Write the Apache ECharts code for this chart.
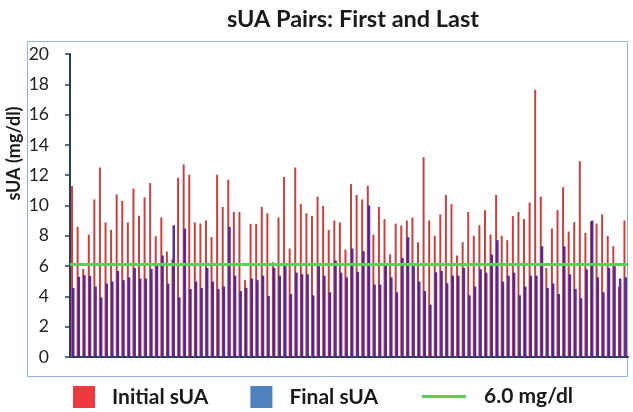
<!DOCTYPE html>
<html>
<head>
<meta charset="utf-8">
<script src="https://cdn.jsdelivr.net/npm/echarts@6/dist/echarts.min.js"></script>
<style>html,body{margin:0;padding:0;background:#fff;}#c{width:633px;height:412px;}</style>
</head>
<body>
<div id="c"></div>
<script>
const titleText = 'sUA Pairs: First and Last';
const yAxisName = 'sUA (mg/dl)';
const yTicks = [0, 2, 4, 6, 8, 10, 12, 14, 16, 18, 20];
const initialSUA = [11.28, 8.59, 5.81, 8.08, 10.40, 12.51, 8.88, 8.39, 10.73, 10.31, 8.88, 11.12, 9.32, 10.53, 11.48, 7.97, 9.21, 6.96, 6.45, 11.83, 12.71, 12.03, 8.88, 8.81, 9.01, 7.91, 12.03, 9.91, 11.70, 9.58, 9.58, 5.07, 8.79, 8.79, 9.91, 9.49, 6.26, 9.21, 11.89, 7.16, 12.51, 10.11, 9.49, 9.30, 10.59, 9.98, 8.39, 9.01, 8.88, 7.09, 11.41, 10.70, 10.40, 11.30, 8.08, 9.91, 9.10, 6.78, 8.81, 8.68, 9.01, 9.21, 7.58, 13.19, 9.01, 8.00, 9.41, 10.70, 10.09, 6.70, 7.58, 9.58, 8.00, 8.70, 9.69, 8.08, 10.70, 8.00, 7.71, 9.30, 9.58, 9.10, 10.20, 17.64, 10.59, 5.88, 8.48, 9.69, 11.21, 8.28, 8.90, 12.93, 8.19, 8.95, 8.81, 9.41, 8.00, 7.31, 4.65, 9.01];
const finalSUA = [4.56, 5.29, 5.40, 5.35, 4.65, 3.94, 4.85, 4.98, 5.68, 5.07, 5.26, 5.88, 5.18, 5.18, 5.81, 6.10, 6.70, 4.85, 8.70, 3.94, 8.48, 4.49, 4.98, 4.56, 5.88, 4.98, 4.49, 4.65, 8.59, 5.37, 4.36, 4.56, 5.18, 5.07, 5.37, 4.03, 5.88, 5.37, 5.99, 4.16, 5.57, 5.46, 5.46, 4.07, 5.99, 5.37, 4.27, 6.37, 5.57, 5.26, 7.16, 5.62, 6.98, 10.0, 4.78, 4.78, 6.10, 5.26, 4.27, 6.54, 7.91, 5.99, 4.98, 4.36, 3.46, 5.59, 5.68, 4.87, 5.37, 5.37, 5.88, 4.07, 4.65, 5.79, 5.57, 6.76, 7.71, 4.98, 5.37, 5.57, 4.07, 4.65, 5.37, 5.37, 7.31, 4.56, 4.85, 4.16, 7.31, 5.46, 4.49, 3.88, 5.79, 9.0, 5.26, 4.27, 5.88, 5.99, 5.18, 5.26];
const refLevel = 6.15;
const seriesNames = ['Initial sUA', 'Final sUA', '6.0 mg/dl'];
const categories = initialSUA.map((_, i) => String(i + 1));

const FONT = 'Lato';
const chart = echarts.init(document.getElementById('c'));
chart.setOption({
  animation: false,
  backgroundColor: '#fff',
  title: {
    text: titleText, left: 222, top: 2,
    textStyle: { fontFamily: FONT, fontWeight: 'bold', fontSize: 23.5, color: '#1a1a1a' }
  },
  graphic: [{
    type: 'rect', z: -1, silent: true,
    shape: { x: 27.5, y: 41.5, width: 600, height: 335 },
    style: { fill: 'none', stroke: '#95b3d7', lineWidth: 1 }
  }],
  legend: [{
    data: [
      { name: seriesNames[0], itemStyle: { color: '#f0393f', opacity: 1 } },
      { name: seriesNames[1], itemStyle: { color: '#4f81bd', opacity: 1 } }
    ],
    left: 73, top: 386, padding: 0, icon: 'rect', itemWidth: 22, itemHeight: 22, itemGap: 42,
    textStyle: { fontFamily: FONT, fontWeight: 'bold', fontSize: 21, color: '#1a1a1a', padding: [0, 0, 0, 12] }
  }, {
    data: [{ name: seriesNames[2], icon: 'rect' }],
    left: 422, top: 386, padding: 0, itemWidth: 44, itemHeight: 3,
    textStyle: { fontFamily: FONT, fontWeight: 'bold', fontSize: 21, color: '#1a1a1a', padding: [0, 0, 0, 13] }
  }],
  grid: { left: 70, right: 5, top: 54, bottom: 55, containLabel: false, outerBoundsMode: 'none' },
  xAxis: {
    type: 'category', data: categories,
    axisLine: { show: true, lineStyle: { color: '#243f60', width: 2 } },
    axisTick: { show: false }, axisLabel: { show: false }, splitLine: { show: false }
  },
  yAxis: {
    type: 'value', min: yTicks[0], max: yTicks[yTicks.length - 1], interval: 2,
    name: yAxisName, nameLocation: 'middle', nameGap: 47, nameRotate: 90, nameMoveOverlap: false,
    nameTextStyle: { fontFamily: FONT, fontWeight: 'bold', fontSize: 18, color: '#1a1a1a', padding: [0, 0, 0, 104] },
    axisLine: { show: true, lineStyle: { color: '#243f60', width: 2 } },
    axisTick: { show: true, length: 5, lineStyle: { color: '#243f60', width: 1.5 } },
    axisLabel: { fontFamily: FONT, fontSize: 17.5, color: '#222', margin: 21 },
    splitLine: { show: false }
  },
  series: [{
    name: seriesNames[0], type: 'bar', data: initialSUA,
    barWidth: 2, barGap: '-50%',
    itemStyle: { color: '#c8413f' }
  }, {
    name: seriesNames[1], type: 'bar', data: finalSUA,
    barWidth: 2.5,
    itemStyle: { color: '#431a98', opacity: 0.9 }
  }, {
    name: seriesNames[2], type: 'line', data: [],
    lineStyle: { color: '#5ccf5a', width: 3 }, itemStyle: { color: '#5ccf5a' },
    markLine: {
      symbol: 'none', silent: true, label: { show: false },
      lineStyle: { color: '#5ccf5a', width: 3, type: 'solid' },
      data: [{ yAxis: refLevel }]
    }
  }]
});
</script>
</body>
</html>
